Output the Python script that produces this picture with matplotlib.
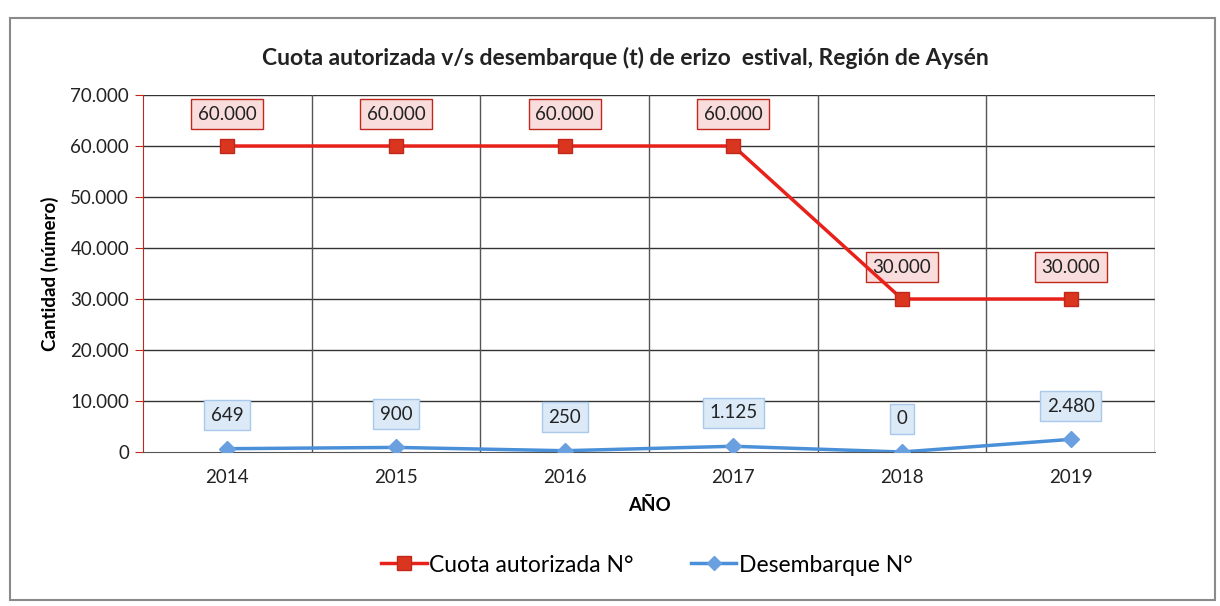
import matplotlib
matplotlib.use("Agg")
import matplotlib.pyplot as plt
from matplotlib.patches import Rectangle
from matplotlib.lines import Line2D

years = ["2014", "2015", "2016", "2017", "2018", "2019"]
cuota = [60000, 60000, 60000, 60000, 30000, 30000]
desembarque = [649, 900, 250, 1125, 0, 2480]
cuota_labels = ["60.000", "60.000", "60.000", "60.000", "30.000", "30.000"]
desemb_labels = ["649", "900", "250", "1.125", "0", "2.480"]
yticks = [0, 10000, 20000, 30000, 40000, 50000, 60000, 70000]
ytick_labels = ["0", "10.000", "20.000", "30.000", "40.000", "50.000", "60.000", "70.000"]

plt.rcParams['font.family'] = ['Lato', 'DejaVu Sans']

fig = plt.figure(figsize=(12.2, 6.06), dpi=100)
fig.patches.append(Rectangle((10/1220, 6/606), 1205/1220, 582/606, transform=fig.transFigure,
                             fill=False, edgecolor='#8a8a8a', linewidth=1.5))
ax = fig.add_axes([143/1220, 1-452/606, 1012/1220, 357/606])

x = list(range(len(years)))
red = '#e8221b'
blue = '#4a90d9'
ax.plot(x, cuota, color=red, linewidth=2.5, marker='s', markersize=10,
        markerfacecolor='#d9351f', markeredgecolor='#c0281b', zorder=4)
ax.plot(x, desembarque, color=blue, linewidth=2.5, marker='D', markersize=8,
        markerfacecolor='#6a9fe0', markeredgecolor='#6a9fe0', zorder=4)

for xi, v, lab in zip(x, cuota, cuota_labels):
    ax.annotate(lab, (xi, v), xytext=(0, 23), textcoords='offset points', ha='center', va='center',
                fontsize=13.5, color='#222222',
                bbox=dict(boxstyle='square,pad=0.35', facecolor='#f9dcdc', edgecolor='#c0281b', linewidth=1))
for xi, v, lab in zip(x, desembarque, desemb_labels):
    ax.annotate(lab, (xi, v), xytext=(0, 24), textcoords='offset points', ha='center', va='center',
                fontsize=13.5, color='#222222',
                bbox=dict(boxstyle='square,pad=0.35', facecolor='#dce9f7', edgecolor='#a8c8ec', linewidth=1))

ax.set_xlim(-0.5, len(years) - 0.5)
ax.set_ylim(0, 70000)
ax.set_yticks(yticks)
ax.set_yticklabels(ytick_labels, fontsize=13.5, color='#222222')
ax.set_xticks(x)
ax.set_xticklabels(years, fontsize=13.5, color='#222222')
ax.tick_params(axis='x', length=0, pad=12)
ax.tick_params(axis='y', length=6, color='#c0281b', pad=4)
for yv in yticks[1:]:
    ax.axhline(yv, color='#333333', linewidth=1, zorder=1)
for xv in [0.5, 1.5, 2.5, 3.5, 4.5, 5.5]:
    ax.axvline(xv, color='#555555', linewidth=1, zorder=1)
for s in ['top', 'right']:
    ax.spines[s].set_visible(False)
ax.spines['left'].set_color('#c0281b')
ax.spines['bottom'].set_color('#555555')

ax.set_xlabel('AÑO', fontsize=13.5, fontweight='bold', labelpad=8)
ax.set_ylabel('Cantidad (número)', fontsize=13.5, fontweight='bold', labelpad=8)
fig.text(0.513, 1-58/606, 'Cuota autorizada v/s desembarque (t) de erizo  estival, Región de Aysén',
         ha='center', va='center', fontsize=16.5, fontweight='bold', color='#222222')

handles = [Line2D([0], [0], color=red, linewidth=2.5, marker='s', markersize=10,
                  markerfacecolor='#d9351f', markeredgecolor='#c0281b'),
           Line2D([0], [0], color=blue, linewidth=2.5, marker='D', markersize=7,
                  markerfacecolor='#6a9fe0', markeredgecolor='#6a9fe0')]
fig.legend(handles, ['Cuota autorizada N°', 'Desembarque N°'], loc='center',
           bbox_to_anchor=(0.53, 1-565/606), ncol=2, frameon=False, fontsize=16.5,
           handlelength=2.0, handletextpad=0.1, columnspacing=2.5)

fig.savefig('out.png', dpi=100)
